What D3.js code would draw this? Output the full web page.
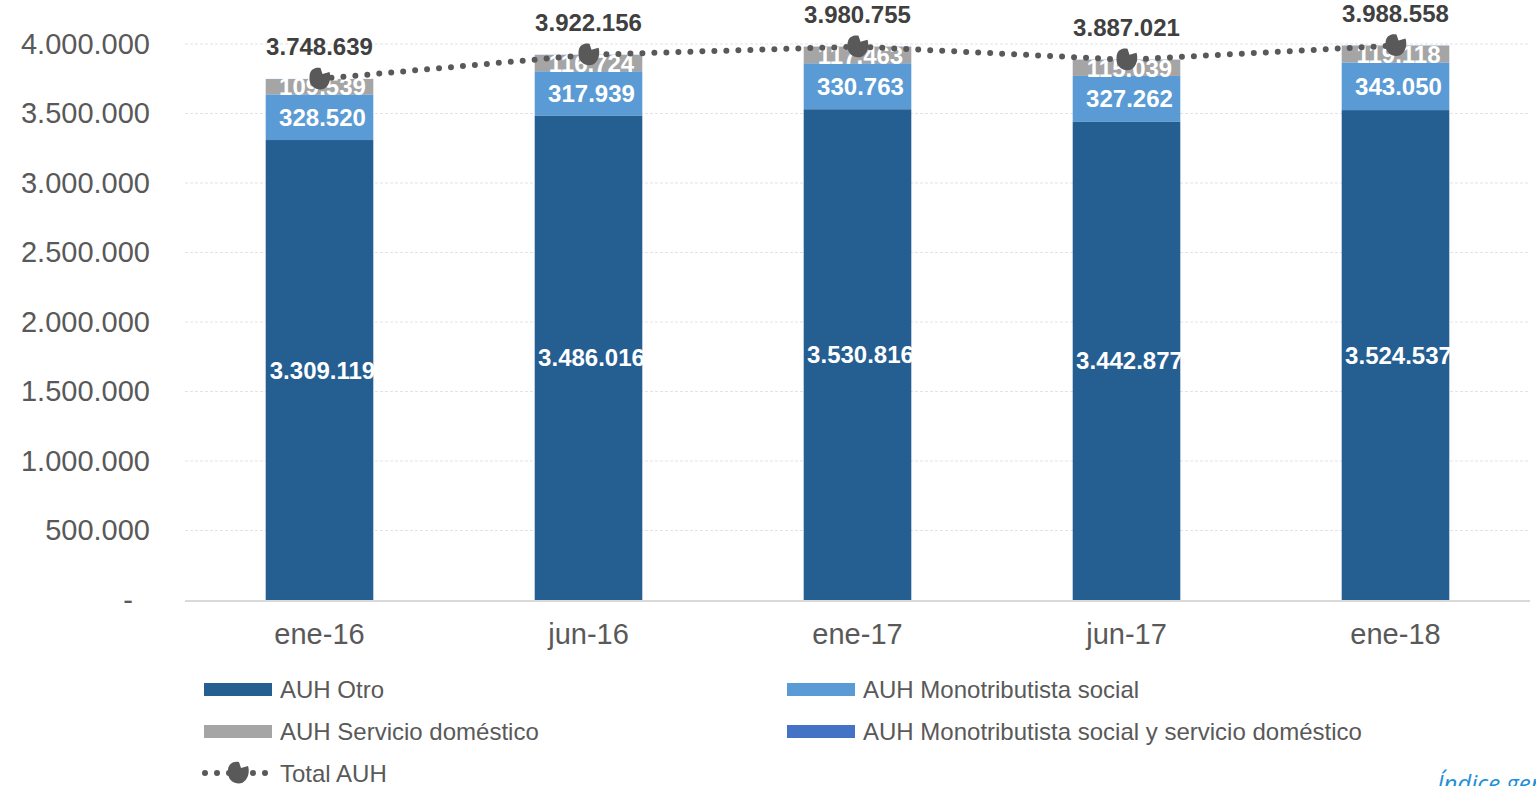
<!DOCTYPE html>
<html>
<head>
<meta charset="utf-8">
<script src="https://cdn.jsdelivr.net/npm/d3@7"></script>
<style>
  body { margin: 0; background: #fff; }
  svg { display: block; font-family: "Liberation Sans", Arial, sans-serif; }
</style>
</head>
<body>
<svg width="1536" height="786"></svg>
<script>
// datos
const periodos = ['ene-16', 'jun-16', 'ene-17', 'jun-17', 'ene-18']
const auhOtro = [3309119, 3486016, 3530816, 3442877, 3524537]
const auhMono = [328520, 317939, 330763, 327262, 343050]
const auhServ = [109539, 116724, 117463, 115039, 119118]
const auhMonoServ = [1461, 1477, 1713, 1843, 1853]
const totalAuh = [3748639, 3922156, 3980755, 3887021, 3988558]
const yTicks = [0, 500000, 1000000, 1500000, 2000000, 2500000, 3000000, 3500000, 4000000]

const series = [
  { name: 'AUH Otro', values: auhOtro, color: '#255E91', label: true },
  { name: 'AUH Monotributista social', values: auhMono, color: '#5B9BD5', label: true },
  { name: 'AUH Servicio doméstico', values: auhServ, color: '#A5A5A5', label: true },
  { name: 'AUH Monotributista social y servicio doméstico', values: auhMonoServ, color: '#4472C4', label: false }
]

const svg = d3.select('svg')
const fmt = v => v === 0 ? '-' : d3.format(',')(v).replace(/,/g, '.')

const x = d3.scaleBand().domain(periodos).range([185, 1530]).paddingInner(0.6).paddingOuter(0.3)
const y = d3.scaleLinear().domain([0, 4000000]).range([600, 44])

// grilla
svg.append('g')
  .selectAll('line')
  .data(yTicks.filter(d => d > 0))
  .join('line')
    .attr('x1', 185).attr('x2', 1530)
    .attr('y1', d => y(d)).attr('y2', d => y(d))
    .attr('stroke', '#e3e3e3')
    .attr('stroke-dasharray', '3 2')

// eje y
const yAxis = svg.append('g')
  .attr('transform', 'translate(150,0)')
  .call(d3.axisLeft(y).tickValues(yTicks).tickFormat(fmt).tickSize(0).tickPadding(0))
yAxis.select('.domain').remove()
yAxis.selectAll('text')
  .attr('font-size', 29)
  .attr('fill', '#595959')
  .attr('font-family', '"Liberation Sans", Arial, sans-serif')
  .attr('dx', d => d === 0 ? -17 : 0)

// barras apiladas
const stackData = periodos.map((p, i) => {
  const row = { periodo: p }
  series.forEach(s => { row[s.name] = s.values[i] })
  return row
})
const stacked = d3.stack().keys(series.map(s => s.name))(stackData)

const layers = svg.append('g')
  .selectAll('g')
  .data(stacked)
  .join('g')
    .attr('fill', (d, i) => series[i].color)

layers.selectAll('rect')
  .data(d => d)
  .join('rect')
    .attr('x', d => x(d.data.periodo))
    .attr('width', x.bandwidth())
    .attr('y', d => y(d[1]))
    .attr('height', d => y(d[0]) - y(d[1]))

// etiquetas de segmentos
stacked.forEach((layer, i) => {
  if (!series[i].label) return
  svg.append('g')
    .selectAll('text')
    .data(layer)
    .join('text')
      .attr('x', d => x(d.data.periodo) + x.bandwidth() / 2 + 3)
      .attr('y', d => (y(d[0]) + y(d[1])) / 2)
      .attr('dy', '0.36em')
      .attr('text-anchor', 'middle')
      .attr('font-size', 24)
      .attr('font-weight', 'bold')
      .attr('fill', '#fff')
      .text(d => fmt(d[1] - d[0]))
})

// eje x
svg.append('line')
  .attr('x1', 185).attr('x2', 1530)
  .attr('y1', y(0) + 1).attr('y2', y(0) + 1)
  .attr('stroke', '#d9d9d9')
  .attr('stroke-width', 2)

svg.append('g')
  .selectAll('text')
  .data(periodos)
  .join('text')
    .attr('x', d => x(d) + x.bandwidth() / 2)
    .attr('y', 644)
    .attr('text-anchor', 'middle')
    .attr('font-size', 29)
    .attr('fill', '#595959')
    .text(d => d)

// linea de total
const cx = (d, i) => x(periodos[i]) + x.bandwidth() / 2
const line = d3.line().x((d, i) => cx(d, i)).y(d => y(d))

svg.append('path')
  .datum(totalAuh)
  .attr('d', line)
  .attr('fill', 'none')
  .attr('stroke', '#595959')
  .attr('stroke-width', 6)
  .attr('stroke-linecap', 'round')
  .attr('stroke-dasharray', '0 12')

const blob = 'M-10,-2 C-10,-10 -4,-12 1,-11 L3,-5 L10,-7 C12,-1 10,7 4,10 C-2,12 -11,8 -10,-2 Z'

svg.append('g')
  .selectAll('path')
  .data(totalAuh)
  .join('path')
    .attr('transform', (d, i) => `translate(${cx(d, i)},${y(d)})`)
    .attr('d', blob)
    .attr('fill', '#595959')

svg.append('g')
  .selectAll('text')
  .data(totalAuh)
  .join('text')
    .attr('x', (d, i) => cx(d, i))
    .attr('y', d => y(d) - 24)
    .attr('text-anchor', 'middle')
    .attr('font-size', 24)
    .attr('font-weight', 'bold')
    .attr('fill', '#404040')
    .text(d => fmt(d))

// leyenda
const legendItems = [
  { s: series[0], lx: 204, ly: 689 },
  { s: series[1], lx: 787, ly: 689 },
  { s: series[2], lx: 204, ly: 731 },
  { s: series[3], lx: 787, ly: 731 }
]
const legend = svg.append('g')
legendItems.forEach(it => {
  legend.append('rect')
    .attr('x', it.lx).attr('y', it.ly - 6)
    .attr('width', 68).attr('height', 13)
    .attr('fill', it.s.color)
  legend.append('text')
    .attr('x', it.lx + 76).attr('y', it.ly)
    .attr('dy', '0.36em')
    .attr('font-size', 24)
    .attr('fill', '#595959')
    .text(it.s.name)
})
legend.append('line')
  .attr('x1', 205).attr('x2', 271)
  .attr('y1', 773).attr('y2', 773)
  .attr('stroke', '#595959')
  .attr('stroke-width', 6)
  .attr('stroke-linecap', 'round')
  .attr('stroke-dasharray', '0 12')
legend.append('path')
  .attr('transform', 'translate(238,773)')
  .attr('d', blob)
  .attr('fill', '#595959')
legend.append('text')
  .attr('x', 280).attr('y', 773)
  .attr('dy', '0.36em')
  .attr('font-size', 24)
  .attr('fill', '#595959')
  .text('Total AUH')

// texto cortado en el borde, como en el original
svg.append('text')
  .attr('x', 1437).attr('y', 792)
  .attr('font-family', '"Open Sans", sans-serif')
  .attr('font-style', 'italic')
  .attr('font-size', 24)
  .attr('fill', '#1E8FD8')
  .text('Índice general')
</script>
</body>
</html>
